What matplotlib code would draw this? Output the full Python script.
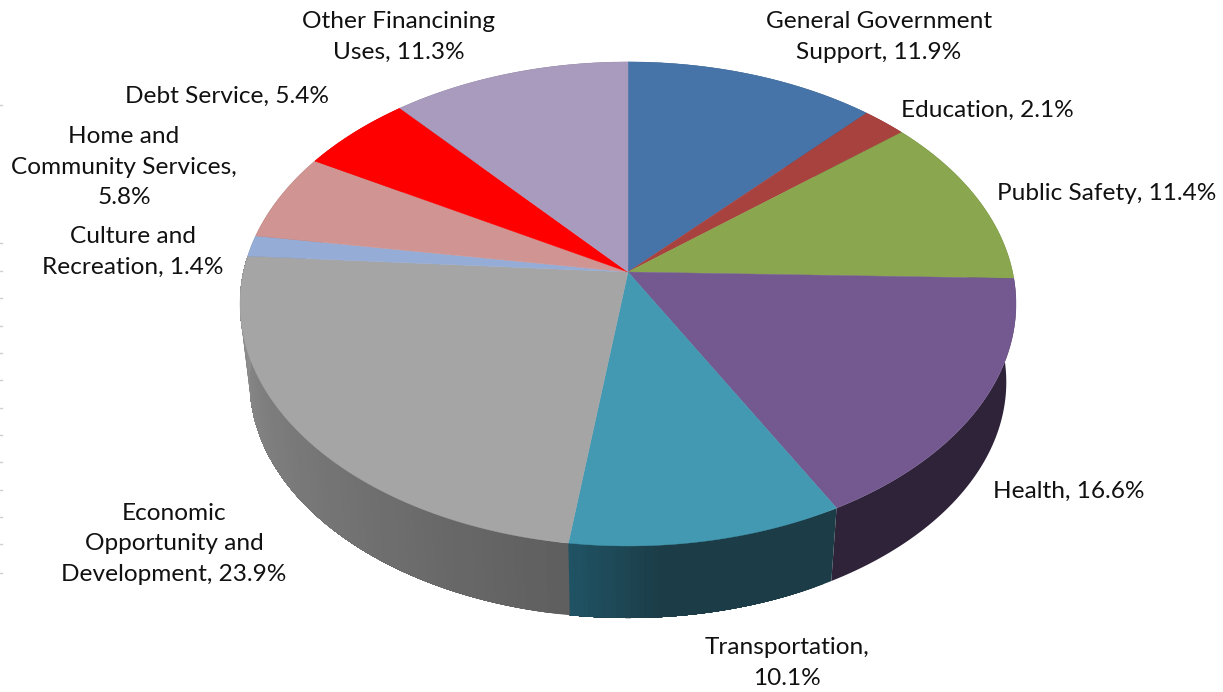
import numpy as np
import matplotlib
matplotlib.use('Agg')
import matplotlib.pyplot as plt
from matplotlib.colors import LinearSegmentedColormap

plt.rcParams['font.family'] = ['Lato', 'DejaVu Sans']

# data
names = ['General Government\nSupport', 'Education', 'Public Safety', 'Health', 'Transportation,\n',
         'Economic\nOpportunity and\nDevelopment', 'Culture and\nRecreation',
         'Home and\nCommunity Services,\n', 'Debt Service', 'Other Financining\nUses']
shares = [11.9, 2.1, 11.4, 16.6, 10.1, 23.9, 1.4, 5.8, 5.4, 11.3]

top_colors = ['#4674a8', '#a8423f', '#8aa64f', '#73598f', '#4399b1',
              '#a5a5a5', '#94acd6', '#d09492', '#ff0000', '#a99bbd']
# side wall shades, from the clockwise start of a slice to its end
side_shades = [['#2b4665'], ['#652826'], ['#536430'], ['#2e2339'],
               ['#1c3d47', '#1c3d47', '#1c3d47', '#1f5364'],
               ['#5f5f5f', '#707070', '#808080', '#949494'],
               ['#596780'], ['#7d5958'], ['#990000'], ['#665d72']]

label_x = [879, 987, 1107, 1069, 787, 174, 133, 124, 227, 399]
label_y = [37, 110, 194, 491, 663, 544, 252, 167, 96, 37]

tick_y = [105, 243, 271, 298, 326, 353, 380, 408, 435, 462, 490, 517, 544, 573]

# pie projection, pixels
cx, cy = 628, 272
a, b, k = 237.8, 384.6, -0.132
drop, shrink = 78.9, 0.975


def rim(theta, lower=False):
    x, y = np.sin(theta), np.cos(theta)
    d = 1 - k * y
    px, py = b * x / d, a * y / d
    if lower:
        return cx + shrink * px, cy + drop - shrink * py
    return cx + px, cy - py


fig = plt.figure(figsize=(12.23, 6.92), dpi=100)
ax = fig.add_axes([0, 0, 1, 1])
ax.set_xlim(0, 1223)
ax.set_ylim(692, 0)
ax.axis('off')

edges = np.cumsum([0] + shares) / sum(shares) * 2 * np.pi

# side wall first, then top face over it
for i in range(len(shares)):
    shades = side_shades[i] * 2 if len(side_shades[i]) == 1 else side_shades[i]
    cmap = LinearSegmentedColormap.from_list('side', shades)
    n = 2 if len(side_shades[i]) == 1 else max(int(shares[i] * 4), 4)
    t = np.linspace(edges[i], edges[i + 1], n)
    end = np.linspace(edges[i], edges[i + 1], 60)
    # every strip runs to the end of the slice so no seams show
    for j in range(len(t) - 1):
        part = end[end >= t[j] - 1e-9]
        x1, y1 = rim(part)
        x2, y2 = rim(part, lower=True)
        ax.fill(np.r_[x1, x2[::-1]], np.r_[y1, y2[::-1]], color=cmap(j / max(len(t) - 2, 1)),
                lw=0, zorder=2)

for i in range(len(shares)):
    t = np.linspace(edges[i], edges[i + 1], 80)
    x, y = rim(t)
    ax.fill(np.r_[cx, x], np.r_[cy, y], color=top_colors[i], lw=0.3, zorder=3)

# labels
for i in range(len(shares)):
    name = names[i]
    if name.endswith('\n'):
        txt = f'{name}{shares[i]}%'
    else:
        txt = f'{name}, {shares[i]}%'
    ax.text(label_x[i], label_y[i], txt, ha='center', va='center', fontsize=17.6,
            color='#111111', linespacing=1.55, zorder=5)

# faint ticks on the left edge
for y in tick_y:
    ax.plot([0, 2], [y, y], color='#d0d0d0', lw=1, zorder=1)

plt.savefig('out.png', dpi=100)
